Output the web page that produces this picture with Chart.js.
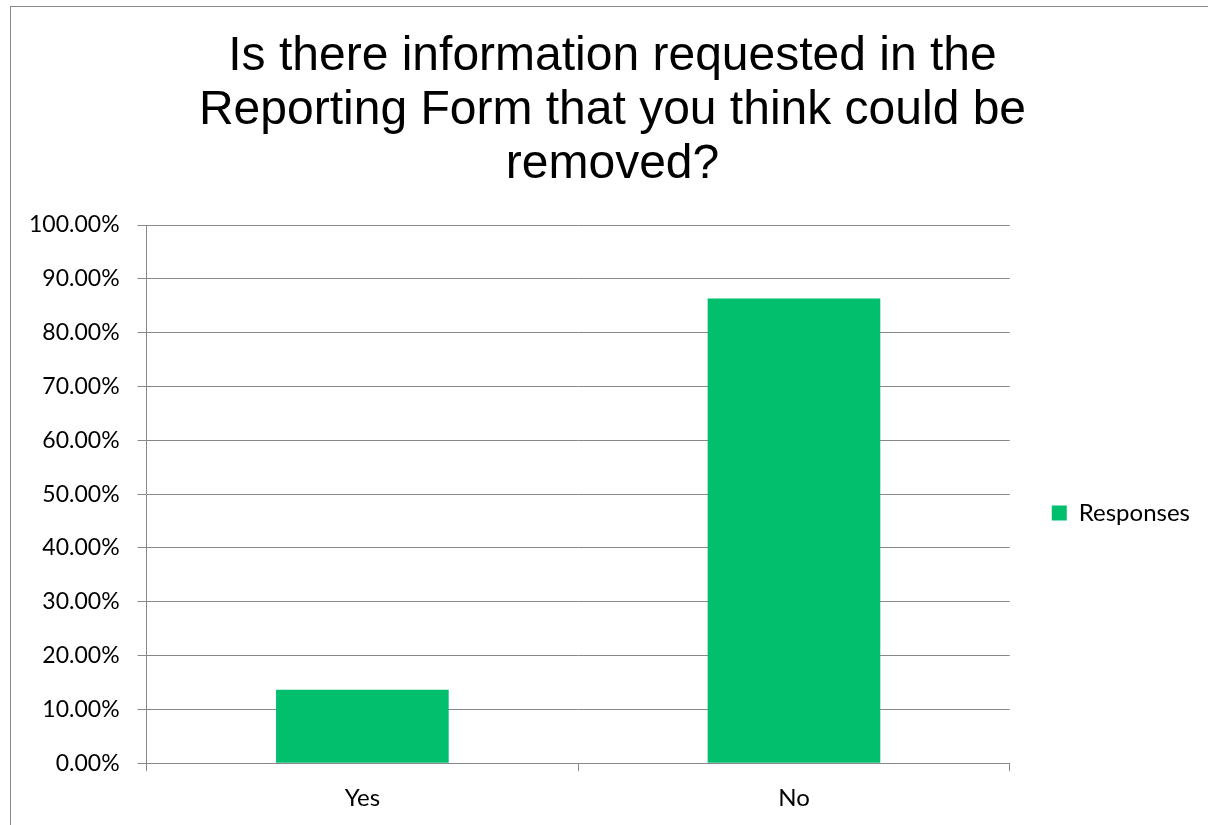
<!DOCTYPE html>
<html>
<head>
<meta charset="utf-8">
<script src="https://cdn.jsdelivr.net/npm/chart.js@4/dist/chart.umd.min.js"></script>
<style>
    body { margin: 0; background: #fff; overflow: hidden; }
    #frame { position: absolute; left: 10px; top: 6px; width: 1210px; height: 830px; border: 1px solid #888; }
    canvas { display: block; }
</style>
</head>
<body>
<div id="frame">
    <canvas id="surveyChart" width="1203" height="819"></canvas>
</div>
<script>
const titleLines = ["Is there information requested in the", "Reporting Form that you think could be", "removed?"];
const categories = ["Yes", "No"];
const responses = [13.64, 86.36];
const seriesName = "Responses";

// nudge the legend a little left and down from where the layout puts it
const legendNudge = {
    id: "legendNudge",
    afterLayout(chart) {
        const lg = chart.legend;
        lg.left -= 14;
        lg.right -= 14;
        lg.top += 19;
        lg.bottom += 19;
    }
};

const ctx = document.getElementById("surveyChart").getContext("2d");

const chart = new Chart(ctx, {
    type: "bar",
    data: {
        labels: categories,
        datasets: [{
            label: seriesName,
            data: responses,
            backgroundColor: "#02bf6e",
            borderWidth: 0,
            barPercentage: 0.4,
            categoryPercentage: 1.0
        }]
    },
    options: {
        responsive: false,
        animation: false,
        layout: {
            padding: { left: 0, right: 0, top: 0, bottom: 0 }
        },
        plugins: {
            title: {
                display: true,
                text: titleLines,
                color: "#000",
                font: { family: "Liberation Sans", size: 48, weight: "normal", lineHeight: 1.125 },
                padding: { top: 23, bottom: 33 }
            },
            legend: {
                position: "right",
                fullSize: false,
                labels: {
                    color: "#000",
                    font: { family: "Lato", size: 24 },
                    boxWidth: 15,
                    boxHeight: 15,
                    padding: 56
                }
            },
            tooltip: { enabled: false }
        },
        scales: {
            x: {
                offset: true,
                grid: {
                    offset: true,
                    drawOnChartArea: false,
                    tickLength: 8,
                    color: "#888"
                },
                border: { color: "#888" },
                ticks: {
                    color: "#000",
                    font: { family: "Lato", size: 24 },
                    padding: 13
                }
            },
            y: {
                min: 0,
                max: 100,
                grid: {
                    color: "#888",
                    tickLength: 9
                },
                border: { color: "#888" },
                ticks: {
                    stepSize: 10,
                    color: "#000",
                    font: { family: "Lato", size: 23 },
                    padding: 18,
                    callback: (value) => value.toFixed(2) + "%"
                }
            }
        }
    },
    plugins: [legendNudge]
});
</script>
</body>
</html>
